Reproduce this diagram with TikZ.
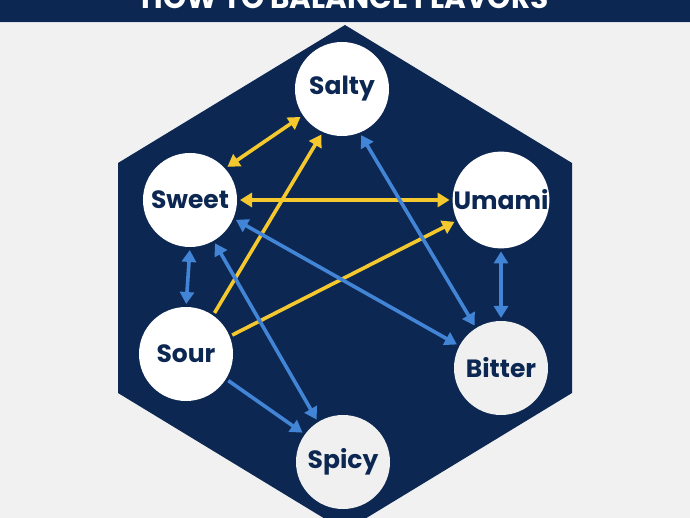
\documentclass[tikz,border=0pt]{standalone}
\usepackage{fontspec}
\setmainfont{Poppins}
\usetikzlibrary{arrows.meta}
\definecolor{navy}{RGB}{12,40,82}
\definecolor{bg}{RGB}{241,241,241}
\definecolor{gold}{RGB}{245,200,45}
\definecolor{sky}{RGB}{66,133,214}
\definecolor{offw}{RGB}{240,240,240}
\tikzset{
  flav/.style={circle, fill=white, minimum size=94pt, inner sep=0pt, outer sep=0pt,
    text=navy, font=\fontsize{25}{25}\selectfont\bfseries},
  ya/.style={draw=gold, line width=3.6pt, shorten >=3pt, shorten <=3pt},
  ba/.style={draw=sky, line width=3.6pt, shorten >=3pt, shorten <=3pt},
  tip/.tip={Triangle[length=12pt,width=14pt]}
}
\begin{document}
\begin{tikzpicture}[x=1pt,y=-1pt]
\useasboundingbox (0,0) rectangle (690,518);
\clip (0,0) rectangle (690,518);
\fill[bg] (0,0) rectangle (690,518);
\fill[navy] (0,0) rectangle (690,22);
\fill[white!85!navy] (0,22) rectangle (690,23.2);
\node[anchor=base, text=white, font=\fontsize{29.5}{30}\selectfont\bfseries, inner sep=0pt] (title) at (345,8.5) {HOW TO BALANCE FLAVORS};
\fill[navy] (345,25) -- (572,163) -- (572,393) -- (345,531) -- (118,393) -- (118,163) -- cycle;

\node[flav] (salty) at (342,89) {Salty};
\node[flav] (sweet) at (190,200) {Sweet};
\node[flav] (umami) at (501,200) {Umami};
\node[flav] (sour) at (186,354) {Sour};
\node[flav, fill=offw] (bitter) at (501,368) {Bitter};
\node[flav, fill=offw] (spicy) at (343,462) {Spicy};

% yellow
\draw[ya, {tip}-{tip}] (salty.214) -- (sweet.42);
\draw[ya, {tip}-{tip}] (sweet.0) -- (umami.180);
\draw[ya, -{tip}] (sour.55) -- (salty.246);
\draw[ya, -{tip}] (sour.22) -- (umami.205);
% blue
\draw[ba, {tip}-{tip}] (sweet.270) -- (sour.90);
\draw[ba, {tip}-{tip}] (sweet.300) -- (spicy.122);
\draw[ba, {tip}-{tip}] (sweet.337) -- (bitter.152);
\draw[ba, {tip}-{tip}] (salty.292) -- (bitter.122);
\draw[ba, {tip}-{tip}] (umami.270) -- (bitter.90);
\draw[ba, -{tip}] (sour.328) -- (spicy.144);
\end{tikzpicture}
\end{document}
